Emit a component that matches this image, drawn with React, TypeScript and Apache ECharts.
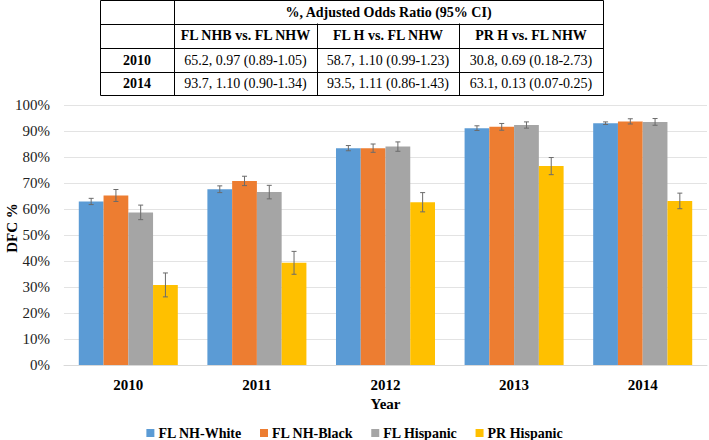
import React, { useEffect, useRef } from "react";
import * as echarts from "echarts";

const years = ["2010", "2011", "2012", "2013", "2014"];
const seriesNames = ["FL NH-White", "FL NH-Black", "FL Hispanic", "PR Hispanic"];
const colors = ["#5b9bd5", "#ed7d31", "#a5a5a5", "#ffc000"];

const flWhite = [62.9, 67.6, 83.4, 91.1, 93.0];
const flBlack = [65.2, 70.8, 83.4, 91.6, 93.7];
const flHispanic = [58.7, 66.5, 84.0, 92.3, 93.5];
const prHispanic = [30.8, 39.3, 62.6, 76.5, 63.1];

const errWhite = [1.2, 1.3, 1.0, 0.9, 0.5];
const errBlack = [2.3, 1.8, 1.6, 1.3, 1.0];
const errHispanic = [2.8, 2.6, 1.8, 1.2, 1.3];
const errPR = [4.6, 4.4, 3.7, 3.3, 3.0];

const yAxisTitle = "DFC %";
const xAxisTitle = "Year";

const tableTitle = "%, Adjusted Odds Ratio (95% CI)";
const tableCols = ["FL NHB vs. FL NHW", "FL H vs. FL NHW", "PR H vs. FL NHW"];
const tableRowLabels = ["2010", "2014"];
const tableCells = [
  ["65.2, 0.97 (0.89-1.05)", "58.7, 1.10 (0.99-1.23)", "30.8, 0.69 (0.18-2.73)"],
  ["93.7, 1.10 (0.90-1.34)", "93.5, 1.11 (0.86-1.43)", "63.1, 0.13 (0.07-0.25)"],
];

const FONT = "'Liberation Serif', 'DejaVu Serif', serif";
const GAP = 0.23;

export default function App() {
  const ref = useRef<HTMLDivElement>(null);
  useEffect(() => {
    if (!ref.current) return;
    const chart = echarts.init(ref.current, null, { renderer: "svg" });
    const values = [flWhite, flBlack, flHispanic, prHispanic];
    const errs = [errWhite, errBlack, errHispanic, errPR];

    const errData: number[][] = [];
    values.forEach((vals, s) => {
      vals.forEach((v, c) => {
        errData.push([c, s, v - errs[s][c], v + errs[s][c]]);
      });
    });

    // table graphic
    const colX = [100, 174, 317, 459, 603];
    const rowY = [0.5, 23.5, 48, 72, 95.5];
    const g: any[] = [];
    const lineStyle = { stroke: "#000", lineWidth: 1 };
    g.push({ type: "rect", shape: { x: colX[0] + 0.5, y: rowY[0], width: colX[4] - colX[0], height: rowY[4] - rowY[0] }, style: { fill: "#fff", stroke: "#000", lineWidth: 1 } });
    for (let r = 1; r < 4; r++) {
      g.push({ type: "line", shape: { x1: colX[0], y1: Math.round(rowY[r]) + 0.5, x2: colX[4], y2: Math.round(rowY[r]) + 0.5 }, style: lineStyle });
    }
    g.push({ type: "line", shape: { x1: colX[1] + 0.5, y1: rowY[0], x2: colX[1] + 0.5, y2: rowY[4] }, style: lineStyle });
    for (let c = 2; c < 4; c++) {
      g.push({ type: "line", shape: { x1: colX[c] + 0.5, y1: rowY[1], x2: colX[c] + 0.5, y2: rowY[4] }, style: lineStyle });
    }
    const cy = (r: number) => (rowY[r] + rowY[r + 1]) / 2;
    const cx = (c: number) => (colX[c] + colX[c + 1]) / 2;
    const txt = (x: number, y: number, t: string, bold: boolean) => ({
      type: "text", x, y,
      style: { text: t, font: `${bold ? "bold " : ""}14px ${FONT}`, fill: "#000", align: "center", verticalAlign: "middle" },
    });
    g.push(txt((colX[1] + colX[4]) / 2, cy(0), tableTitle, true));
    tableCols.forEach((t, i) => g.push(txt(cx(i + 1), cy(1), t, true)));
    tableRowLabels.forEach((t, i) => {
      g.push(txt(cx(0), cy(2 + i), t, true));
      tableCells[i].forEach((v, j) => g.push(txt(cx(j + 1), cy(2 + i), v, false)));
    });
    // y-axis title
    g.push({
      type: "text", x: 12, y: 228, rotation: Math.PI / 2,
      style: { text: yAxisTitle, font: `bold 15px ${FONT}`, fill: "#000", align: "center", verticalAlign: "middle" },
    });

    chart.setOption({
      animation: false,
      color: colors,
      textStyle: { fontFamily: FONT },
      grid: { left: 64, right: 2, top: 105, bottom: 75, outerBoundsMode: "none", containLabel: false },
      legend: {
        top: 421,
        left: "center",
        itemWidth: 8,
        itemHeight: 8,
        itemGap: 18,
        icon: "rect",
        data: seriesNames,
        textStyle: { fontFamily: FONT, fontWeight: "bold", fontSize: 14, color: "#000", padding: [0, 0, 0, -1] },
      },
      xAxis: {
        type: "category",
        data: years,
        name: xAxisTitle,
        nameLocation: "middle",
        nameGap: 29,
        nameTextStyle: { fontFamily: FONT, fontWeight: "bold", fontSize: 15, color: "#000" },
        axisLine: { lineStyle: { color: "#d9d9d9" } },
        axisTick: { show: false },
        axisLabel: { fontFamily: FONT, fontWeight: "bold", fontSize: 15, color: "#000", margin: 12 },
      },
      yAxis: {
        type: "value",
        min: 0,
        max: 100,
        interval: 10,
        axisLine: { show: false },
        axisTick: { show: false },
        splitLine: { lineStyle: { color: "#e3e3e3" } },
        axisLabel: { formatter: "{value}%", fontFamily: FONT, fontSize: 15, color: "#222", margin: 14 },
      },
      series: [
        ...seriesNames.map((n, i) => ({
          name: n,
          type: "bar",
          data: values[i],
          barCategoryGap: GAP * 100 + "%",
          barGap: "0%",
          itemStyle: { color: colors[i] },
        })),
        {
          type: "custom",
          z: 10,
          silent: true,
          data: errData,
          encode: { x: 0, y: [2, 3] },
          renderItem: (params: any, api: any) => {
            const c = api.value(0);
            const s = api.value(1);
            const lo = api.coord([c, api.value(2)]);
            const hi = api.coord([c, api.value(3)]);
            const band = api.size([1, 0])[0];
            const bw = (band * (1 - GAP)) / 4;
            const x = lo[0] - (band * (1 - GAP)) / 2 + (s + 0.5) * bw;
            const cap = 2.5;
            const st = { stroke: "#6b6b6b", lineWidth: 1, fill: null };
            return {
              type: "group",
              children: [
                { type: "line", shape: { x1: x, y1: lo[1], x2: x, y2: hi[1] }, style: st },
                { type: "line", shape: { x1: x - cap, y1: lo[1], x2: x + cap, y2: lo[1] }, style: st },
                { type: "line", shape: { x1: x - cap, y1: hi[1], x2: x + cap, y2: hi[1] }, style: st },
              ],
            };
          },
        },
      ],
      graphic: g,
    } as any);
    return () => chart.dispose();
  }, []);
  return <div ref={ref} style={{ position: "fixed", left: 0, top: 0, width: 709, height: 440, background: "#fff" }} />;
}
